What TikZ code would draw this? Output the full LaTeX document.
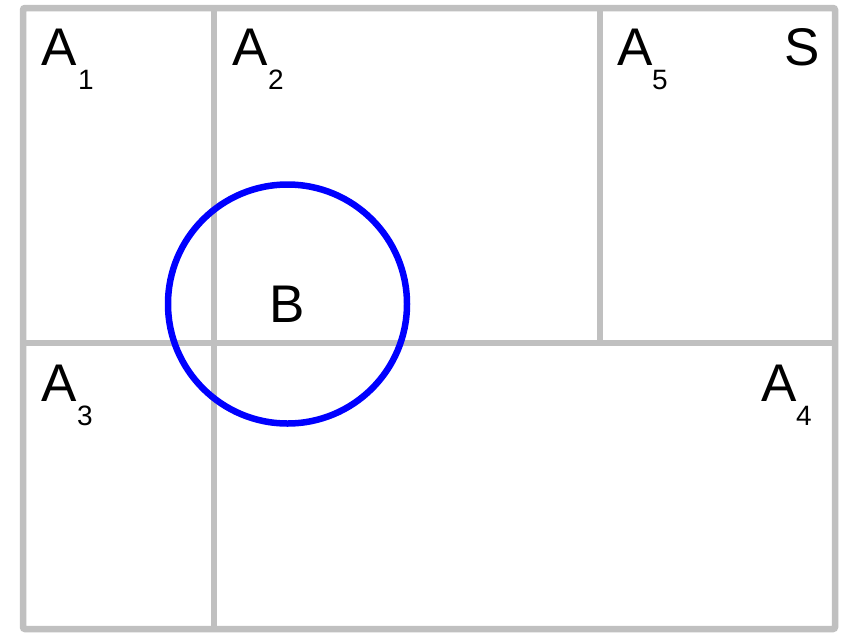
\documentclass[tikz,border=0pt]{standalone}
\usepackage{fontspec}
\setmainfont{Liberation Sans}
\definecolor{linegray}{RGB}{192,192,192}
\definecolor{circblue}{RGB}{0,0,255}
\tikzset{
  partline/.style={draw=linegray, line width=6.5pt},
  bigtxt/.style={anchor=base west, inner sep=0pt, outer sep=0pt, font=\fontsize{53}{60}\selectfont},
  subtxt/.style={anchor=base west, inner sep=0pt, outer sep=0pt, font=\fontsize{28}{32}\selectfont},
}
\begin{document}
\begin{tikzpicture}[x=1pt,y=-1pt]
\useasboundingbox (0,0) rectangle (844,633);
\fill[white] (0,0) rectangle (844,633);
% partition lines
\coordinate (tl) at (23,8);
\coordinate (br) at (835,629);
\coordinate (vt) at (214,8);
\coordinate (vb) at (214,629);
\coordinate (hl) at (23,343);
\coordinate (hr) at (835,343);
\coordinate (v5t) at (600,8);
\coordinate (v5b) at (600,343);
\draw[partline] (vt) -- (vb);
\draw[partline] (hl) -- (hr);
\draw[partline] (v5t) -- (v5b);
\draw[partline, rounded corners=2pt] (tl) rectangle (br);
% circle B
\draw[circblue, line width=6.5pt] (287.5,304) circle (119.5);
% labels
\node[bigtxt] (a1) at (41,65) {A};
\node[subtxt] (a1s) at (78,89) {1};
\node[bigtxt] (a2) at (232,65) {A};
\node[subtxt] (a2s) at (268,89) {2};
\node[bigtxt] (a5) at (617,65) {A};
\node[subtxt] (a5s) at (652,89) {5};
\node[bigtxt] (s) at (784,65) {S};
\node[bigtxt] (a3) at (41,401) {A};
\node[subtxt] (a3s) at (77,425) {3};
\node[bigtxt] (a4) at (761,401) {A};
\node[subtxt] (a4s) at (796,425) {4};
\node[bigtxt] (b) at (269,322) {B};
\end{tikzpicture}
\end{document}
